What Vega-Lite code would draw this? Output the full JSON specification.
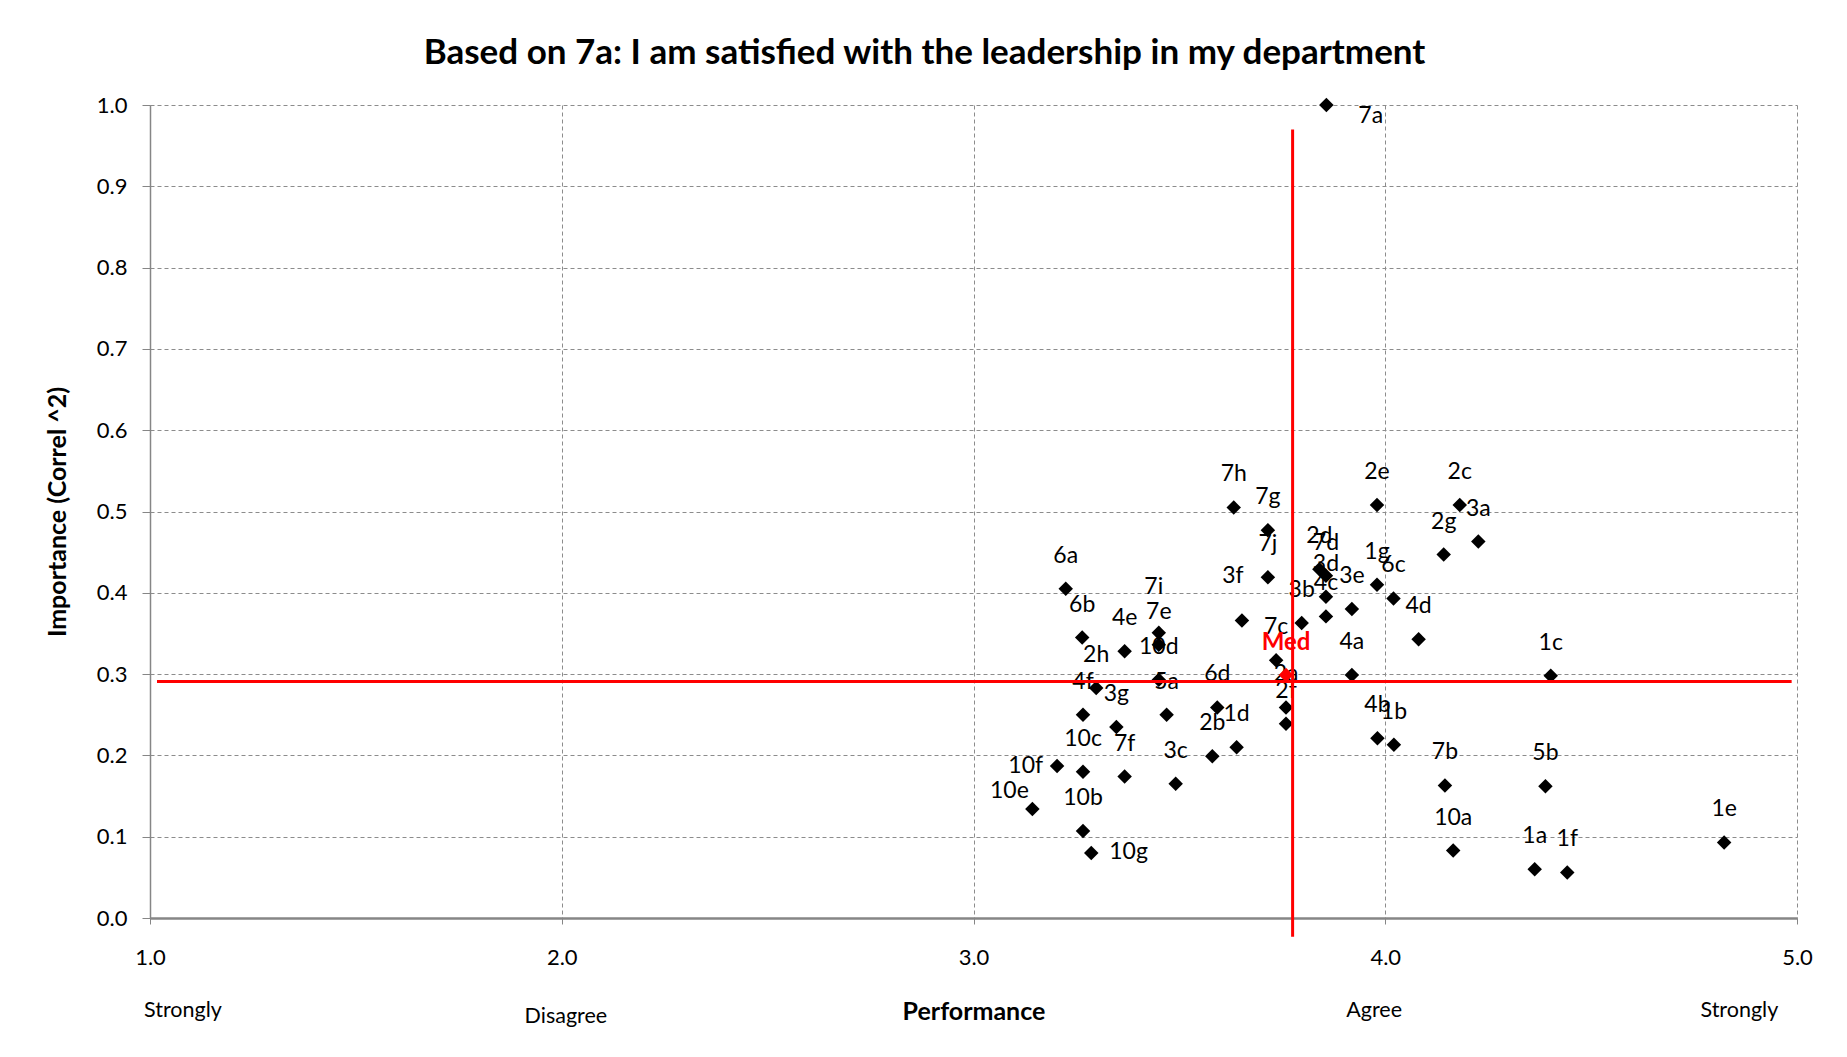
{
  "$schema": "https://vega.github.io/schema/vega-lite/v6.json",
  "width": 1647,
  "height": 813,
  "autosize": "none",
  "padding": {"left": 150, "top": 105, "right": 50, "bottom": 139},
  "background": "white",
  "config": {"font": "Lato", "view": {"stroke": null}},
  "title": {
    "text": "Based on 7a: I am satisfied with the leadership in my department",
    "fontSize": 35, "fontWeight": "bold", "font": "Lato", "color": "black",
    "anchor": "middle", "frame": "group", "dx": -49, "offset": 23
  },
  "datasets": {
    "items": [
      {"item": "7a", "perf": 3.857, "imp": 1.000},
      {"item": "7h", "perf": 3.632, "imp": 0.505},
      {"item": "7g", "perf": 3.715, "imp": 0.477},
      {"item": "7j", "perf": 3.715, "imp": 0.419},
      {"item": "3f", "perf": 3.652, "imp": 0.366},
      {"item": "2e", "perf": 3.980, "imp": 0.508},
      {"item": "2c", "perf": 4.181, "imp": 0.508},
      {"item": "3a", "perf": 4.226, "imp": 0.463},
      {"item": "2g", "perf": 4.142, "imp": 0.447},
      {"item": "2d", "perf": 3.840, "imp": 0.429},
      {"item": "7d", "perf": 3.856, "imp": 0.421},
      {"item": "3d", "perf": 3.856, "imp": 0.395},
      {"item": "4c", "perf": 3.856, "imp": 0.371},
      {"item": "3b", "perf": 3.797, "imp": 0.363},
      {"item": "3e", "perf": 3.919, "imp": 0.380},
      {"item": "1g", "perf": 3.980, "imp": 0.410},
      {"item": "6c", "perf": 4.020, "imp": 0.393},
      {"item": "4d", "perf": 4.081, "imp": 0.343},
      {"item": "7c", "perf": 3.735, "imp": 0.317},
      {"item": "4a", "perf": 3.919, "imp": 0.299},
      {"item": "1c", "perf": 4.402, "imp": 0.298},
      {"item": "2a", "perf": 3.759, "imp": 0.259},
      {"item": "2f", "perf": 3.759, "imp": 0.239},
      {"item": "6d", "perf": 3.592, "imp": 0.259},
      {"item": "1d", "perf": 3.639, "imp": 0.210},
      {"item": "2b", "perf": 3.580, "imp": 0.199},
      {"item": "4b", "perf": 3.981, "imp": 0.221},
      {"item": "1b", "perf": 4.021, "imp": 0.213},
      {"item": "7b", "perf": 4.145, "imp": 0.163},
      {"item": "5b", "perf": 4.389, "imp": 0.162},
      {"item": "10a", "perf": 4.165, "imp": 0.083},
      {"item": "1a", "perf": 4.363, "imp": 0.060},
      {"item": "1f", "perf": 4.442, "imp": 0.056},
      {"item": "1e", "perf": 4.823, "imp": 0.093},
      {"item": "6a", "perf": 3.224, "imp": 0.405},
      {"item": "6b", "perf": 3.264, "imp": 0.345},
      {"item": "4e", "perf": 3.367, "imp": 0.328},
      {"item": "7i", "perf": 3.450, "imp": 0.351},
      {"item": "7e", "perf": 3.450, "imp": 0.336},
      {"item": "10d", "perf": 3.450, "imp": 0.293},
      {"item": "5a", "perf": 3.469, "imp": 0.250},
      {"item": "2h", "perf": 3.298, "imp": 0.283},
      {"item": "4f", "perf": 3.266, "imp": 0.250},
      {"item": "3g", "perf": 3.347, "imp": 0.235},
      {"item": "10c", "perf": 3.266, "imp": 0.180},
      {"item": "7f", "perf": 3.367, "imp": 0.174},
      {"item": "3c", "perf": 3.491, "imp": 0.165},
      {"item": "10f", "perf": 3.203, "imp": 0.187},
      {"item": "10e", "perf": 3.143, "imp": 0.134},
      {"item": "10b", "perf": 3.266, "imp": 0.107},
      {"item": "10g", "perf": 3.286, "imp": 0.080}
    ],
    "med": [{"item": "Med", "perf": 3.759, "imp": 0.299}],
    "vline": [{"perf": 3.775, "imp": -0.023, "imp2": 0.970}],
    "hline": [{"imp": 0.291, "perf": 1.017, "perf2": 4.987}],
    "words": [
      {"word": "Strongly", "perf": 1.08},
      {"word": "Agree", "perf": 3.973},
      {"word": "Strongly", "perf": 4.86}
    ],
    "words2": [{"word": "Disagree", "perf": 2.01}]
  },
  "layer": [
    {
      "data": {"name": "items"},
      "mark": {"type": "point", "shape": "diamond", "filled": true, "size": 210, "color": "black", "opacity": 1},
      "encoding": {
        "x": {
          "field": "perf", "type": "quantitative",
          "scale": {"domain": [1, 5], "nice": false, "zero": false},
          "axis": {
            "values": [1, 2, 3, 4, 5], "format": ".1f", "labelFlush": false,
            "title": "Performance", "titleFontWeight": "bold", "titleFontSize": 25, "titleColor": "black",
            "titleY": 93, "titleBaseline": "middle",
            "grid": true, "gridDash": [4, 3], "gridColor": "#8c8c8c", "gridWidth": 1,
            "domainColor": "#868686", "domainWidth": 2.5,
            "tickColor": "#868686", "tickSize": 6,
            "labelFontSize": 22, "labelColor": "black", "labelPadding": 23
          }
        },
        "y": {
          "field": "imp", "type": "quantitative",
          "scale": {"domain": [0, 1], "nice": false},
          "axis": {
            "values": [0, 0.1, 0.2, 0.3, 0.4, 0.5, 0.6, 0.7, 0.8, 0.9, 1.0], "format": ".1f",
            "title": "Importance (Correl ^2)", "titleFontWeight": "bold", "titleFontSize": 25, "titleColor": "black",
            "titleX": -93, "titleY": 406.5, "titleBaseline": "middle", "titleAlign": "center", "titleAngle": -90,
            "grid": true, "gridDash": [4, 3], "gridColor": "#8c8c8c", "gridWidth": 1,
            "domainColor": "#868686", "domainWidth": 1.5,
            "tickColor": "#868686", "tickSize": 8,
            "labelFontSize": 22, "labelColor": "black", "labelPadding": 15
          }
        }
      }
    },
    {
      "data": {"name": "items"},
      "transform": [{"filter": {"not": {"field": "item", "oneOf": ["7a", "10g", "10f", "10e", "3f", "7i"]}}}],
      "mark": {"type": "text", "align": "center", "baseline": "middle", "dy": -33, "fontSize": 23, "color": "black"},
      "encoding": {
        "x": {"field": "perf", "type": "quantitative"},
        "y": {"field": "imp", "type": "quantitative"},
        "text": {"field": "item"}
      }
    },
    {
      "data": {"name": "items"},
      "transform": [{"filter": {"field": "item", "equal": "7a"}}],
      "mark": {"type": "text", "align": "left", "baseline": "middle", "dx": 32, "dy": 11, "fontSize": 23, "color": "black"},
      "encoding": {
        "x": {"field": "perf", "type": "quantitative"},
        "y": {"field": "imp", "type": "quantitative"},
        "text": {"field": "item"}
      }
    },
    {
      "data": {"name": "items"},
      "transform": [{"filter": {"field": "item", "equal": "10g"}}],
      "mark": {"type": "text", "align": "left", "baseline": "middle", "dx": 18, "dy": -1, "fontSize": 23, "color": "black"},
      "encoding": {
        "x": {"field": "perf", "type": "quantitative"},
        "y": {"field": "imp", "type": "quantitative"},
        "text": {"field": "item"}
      }
    },
    {
      "data": {"name": "items"},
      "transform": [{"filter": {"field": "item", "equal": "10f"}}],
      "mark": {"type": "text", "align": "right", "baseline": "middle", "dx": -14, "dy": 0, "fontSize": 23, "color": "black"},
      "encoding": {
        "x": {"field": "perf", "type": "quantitative"},
        "y": {"field": "imp", "type": "quantitative"},
        "text": {"field": "item"}
      }
    },
    {
      "data": {"name": "items"},
      "transform": [{"filter": {"field": "item", "equal": "10e"}}],
      "mark": {"type": "text", "align": "center", "baseline": "middle", "dx": -23, "dy": -18, "fontSize": 23, "color": "black"},
      "encoding": {
        "x": {"field": "perf", "type": "quantitative"},
        "y": {"field": "imp", "type": "quantitative"},
        "text": {"field": "item"}
      }
    },
    {
      "data": {"name": "items"},
      "transform": [{"filter": {"field": "item", "equal": "3f"}}],
      "mark": {"type": "text", "align": "center", "baseline": "middle", "dx": -9, "dy": -44, "fontSize": 23, "color": "black"},
      "encoding": {
        "x": {"field": "perf", "type": "quantitative"},
        "y": {"field": "imp", "type": "quantitative"},
        "text": {"field": "item"}
      }
    },
    {
      "data": {"name": "items"},
      "transform": [{"filter": {"field": "item", "equal": "7i"}}],
      "mark": {"type": "text", "align": "center", "baseline": "middle", "dx": -5, "dy": -46, "fontSize": 23, "color": "black"},
      "encoding": {
        "x": {"field": "perf", "type": "quantitative"},
        "y": {"field": "imp", "type": "quantitative"},
        "text": {"field": "item"}
      }
    },
    {
      "data": {"name": "vline"},
      "mark": {"type": "rule", "color": "#ff0000", "strokeWidth": 3, "clip": false},
      "encoding": {
        "x": {"field": "perf", "type": "quantitative"},
        "y": {"field": "imp", "type": "quantitative"},
        "y2": {"field": "imp2"}
      }
    },
    {
      "data": {"name": "hline"},
      "mark": {"type": "rule", "color": "#ff0000", "strokeWidth": 3, "clip": false},
      "encoding": {
        "y": {"field": "imp", "type": "quantitative"},
        "x": {"field": "perf", "type": "quantitative"},
        "x2": {"field": "perf2"}
      }
    },
    {
      "data": {"name": "med"},
      "mark": {"type": "point", "shape": "diamond", "filled": true, "size": 210, "color": "#ff0000", "opacity": 1},
      "encoding": {
        "x": {"field": "perf", "type": "quantitative"},
        "y": {"field": "imp", "type": "quantitative"}
      }
    },
    {
      "data": {"name": "med"},
      "mark": {"type": "text", "align": "center", "baseline": "middle", "dy": -32, "fontSize": 24, "fontWeight": "bold", "color": "#ff0000"},
      "encoding": {
        "x": {"field": "perf", "type": "quantitative"},
        "y": {"field": "imp", "type": "quantitative"},
        "text": {"field": "item"}
      }
    },
    {
      "data": {"name": "words"},
      "mark": {"type": "text", "align": "center", "baseline": "middle", "dy": 93, "fontSize": 21.5, "font": "Lato", "color": "black"},
      "encoding": {
        "x": {"field": "perf", "type": "quantitative"},
        "y": {"datum": 0, "type": "quantitative"},
        "text": {"field": "word"}
      }
    },
    {
      "data": {"name": "words2"},
      "mark": {"type": "text", "align": "center", "baseline": "middle", "dy": 99, "fontSize": 21.5, "font": "Lato", "color": "black"},
      "encoding": {
        "x": {"field": "perf", "type": "quantitative"},
        "y": {"datum": 0, "type": "quantitative"},
        "text": {"field": "word"}
      }
    }
  ]
}
